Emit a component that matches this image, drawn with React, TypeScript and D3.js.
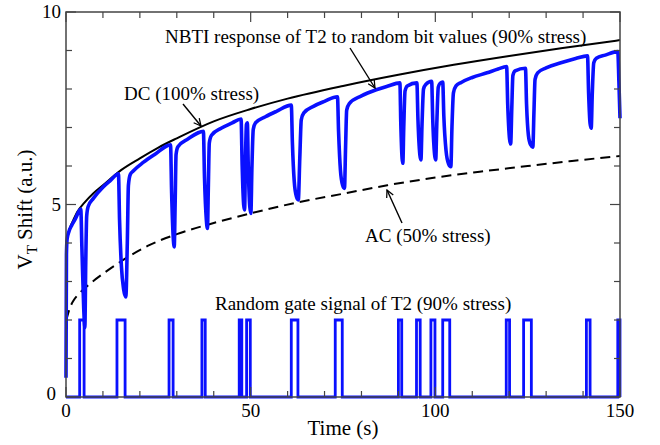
import React from 'react';
import * as d3 from 'd3';

// ---------- data ----------
const dcCurve: [number, number][] = [
  [0, 3.6], [0.15, 4.0], [0.5, 4.2], [1, 4.38], [2, 4.6], [3, 4.8], [5, 5.05], [7.5, 5.3],
  [10, 5.5], [15, 5.9], [20, 6.2], [25, 6.48], [30, 6.72], [40, 7.16], [50, 7.48],
  [60, 7.75], [75, 8.08], [90, 8.37], [105, 8.63], [120, 8.86], [135, 9.07], [150, 9.27],
];

const acCurve: [number, number][] = [
  [0.1, 2.0], [1, 2.3], [2, 2.5], [3.5, 2.68], [5.6, 2.87], [10, 3.2], [15.5, 3.56],
  [22.7, 3.95], [30, 4.23], [40, 4.52], [50, 4.77], [62.5, 5.05], [75, 5.28], [87, 5.5],
  [100, 5.7], [112, 5.85], [125, 6.0], [137, 6.13], [150, 6.26],
];

const vtCurve: [number, number][] = [
  [0, 0.5], [0.12, 3.7], [0.3, 4.1], [0.8, 4.3], [1.5, 4.45], [2.5, 4.62], [4.0, 4.88],
  [4.3, 3.9], [4.8, 2.3], [5.1, 1.8], [5.35, 3.5], [5.6, 4.7], [6.0, 4.95], [7.4, 5.16],
  [10, 5.45], [12, 5.62], [14.2, 5.8],
  [14.5, 4.6], [15.0, 3.4], [15.6, 2.8], [16.2, 2.6], [16.6, 4.0], [16.9, 5.5], [17.4, 5.78],
  [18.2, 5.87], [21, 6.1], [24, 6.3], [28.3, 6.55],
  [28.6, 5.3], [29.0, 4.2], [29.3, 3.9], [29.55, 5.0], [29.8, 6.3], [30.3, 6.5], [33, 6.7], [37.2, 6.9],
  [37.5, 5.7], [38.0, 4.6], [38.3, 4.38], [38.55, 5.5], [38.8, 6.6], [39.4, 6.8], [42, 6.98],
  [45, 7.12], [47.4, 7.22],
  [47.7, 6.0], [48.1, 5.0], [48.35, 4.86], [48.6, 6.2], [48.85, 7.08], [49.1, 7.12],
  [49.35, 6.0], [49.75, 4.95], [50.05, 4.77], [50.35, 6.0], [50.7, 6.95], [51.3, 7.12],
  [54, 7.28], [57, 7.42], [61.0, 7.58],
  [61.3, 6.6], [61.8, 5.6], [62.4, 5.2], [62.9, 5.12], [63.3, 6.2], [63.7, 7.2], [64.4, 7.38],
  [67, 7.55], [70, 7.68], [73.5, 7.8],
  [73.8, 6.9], [74.3, 5.9], [74.9, 5.5], [75.4, 5.42], [75.7, 6.5], [76.0, 7.45], [76.7, 7.62],
  [80, 7.82], [84, 7.98], [87, 8.07], [90.4, 8.16],
  [90.65, 7.1], [91.0, 6.2], [91.2, 6.07], [91.45, 7.0], [91.8, 7.95], [92.4, 8.08], [95.0, 8.16],
  [95.3, 7.2], [95.8, 6.3], [96.1, 6.16], [96.4, 7.1], [96.8, 8.0], [97.4, 8.12], [99.0, 8.2],
  [99.3, 7.2], [99.8, 6.3], [100.1, 6.16], [100.4, 7.1], [100.8, 8.05], [101.3, 8.15], [102.0, 8.18],
  [102.3, 7.3], [102.9, 6.4], [103.6, 6.05], [104.2, 5.98], [104.5, 7.0], [104.9, 7.9], [105.6, 8.08],
  [107, 8.17], [110, 8.3], [114, 8.42], [117, 8.52], [119.3, 8.58],
  [119.6, 7.6], [120.1, 6.7], [120.4, 6.57], [120.7, 7.5], [121.0, 8.35], [121.6, 8.47], [124.4, 8.54],
  [124.7, 7.6], [125.2, 6.8], [125.8, 6.55], [126.4, 6.49], [126.7, 7.4], [127.0, 8.25], [127.7, 8.42],
  [130, 8.55], [134, 8.68], [138, 8.79], [141.2, 8.86],
  [141.5, 7.9], [141.9, 7.1], [142.2, 6.98], [142.5, 7.9], [142.9, 8.68], [143.6, 8.8],
  [146, 8.88], [149.4, 8.97], [149.7, 8.2], [150, 7.24],
];

// gate high intervals [start, end] (s)
const gatePulses: [number, number][] = [
  [3.7, 4.9], [13.8, 16.0], [27.9, 29.0], [36.8, 37.7], [46.9, 47.6], [48.9, 49.9],
  [61.0, 62.8], [72.9, 74.8], [90.0, 90.9], [94.9, 95.9], [98.8, 99.9], [102.0, 103.9],
  [119.2, 120.1], [123.9, 126.0], [140.9, 141.9], [149.4, 150],
];
const gateHigh = 2;
const gateLow = 0;

const xMajorTicks = [0, 50, 100, 150];
const yMajorTicks = [0, 5, 10];

const xLabel = 'Time (s)';
const yLabelMain = 'V';
const yLabelSub = 'T';
const yLabelRest = ' Shift (a.u.)';
const nbtiLabel = 'NBTI response of T2 to random bit values (90% stress)';
const dcLabel = 'DC (100% stress)';
const acLabel = 'AC (50% stress)';
const gateLabel = 'Random gate signal of T2 (90% stress)';

// ---------- layout ----------
const W = 660;
const H = 445;
const L = 66, R = 620, T = 12, B = 397;
const FONT = '"Liberation Serif", "Times New Roman", serif';
const BLUE = '#0a10ff';

export default function App() {
  const x = d3.scaleLinear().domain([0, 150]).range([L, R]);
  const y = d3.scaleLinear().domain([0, 10]).range([B, T]);

  const line = d3.line<[number, number]>().x(d => x(d[0])).y(d => y(d[1])).curve(d3.curveMonotoneX);
  const stepLine = d3.line<[number, number]>().x(d => x(d[0])).y(d => y(d[1]));

  const gatePts: [number, number][] = [[0, gateLow]];
  gatePulses.forEach(([s, e]) => {
    gatePts.push([s, gateLow], [s, gateHigh], [e, gateHigh], [e, gateLow]);
  });
  gatePts.push([150, gateLow]);

  const xMinor = x.ticks(15);
  const yMinor = y.ticks(10);

  const axisColor = '#444';

  return (
    <svg width={W} height={H} style={{ position: 'absolute', left: 0, top: 0, background: '#fff' }}
      fontFamily={FONT}>
      <defs>
        <marker id="arr" viewBox="0 0 10 10" refX="9" refY="5" markerWidth="9" markerHeight="9"
          markerUnits="userSpaceOnUse" orient="auto">
          <path d="M1,1 L9,5 L1,9" fill="none" stroke="#000" strokeWidth={1.4} />
        </marker>
      </defs>
      <rect x={0} y={0} width={W} height={H} fill="#fff" />

      {/* curves */}
      <path d={line(dcCurve) || ''} fill="none" stroke="#000" strokeWidth={2} />
      <path d={line(acCurve) || ''} fill="none" stroke="#000" strokeWidth={2} strokeDasharray="10,6" />
      <path d={stepLine(gatePts) || ''} fill="none" stroke={BLUE} strokeWidth={2.8} />
      <path d={line(vtCurve) || ''} fill="none" stroke={BLUE} strokeWidth={3.6} strokeLinejoin="round" />

      {/* frame */}
      <rect x={L} y={T} width={R - L} height={B - T} fill="none" stroke={axisColor} strokeWidth={1.5} />
      {xMinor.map(t => {
        const len = xMajorTicks.includes(t) ? 10 : 6;
        return (
          <g key={'xt' + t}>
            <line x1={x(t)} x2={x(t)} y1={B} y2={B - len} stroke={axisColor} strokeWidth={1.2} />
            <line x1={x(t)} x2={x(t)} y1={T} y2={T + len} stroke={axisColor} strokeWidth={1.2} />
          </g>
        );
      })}
      {yMinor.map(v => {
        const len = yMajorTicks.includes(v) ? 10 : 6;
        return (
          <g key={'yt' + v}>
            <line x1={L} x2={L + len} y1={y(v)} y2={y(v)} stroke={axisColor} strokeWidth={1.2} />
            <line x1={R} x2={R - len} y1={y(v)} y2={y(v)} stroke={axisColor} strokeWidth={1.2} />
          </g>
        );
      })}

      {/* tick labels */}
      {xMajorTicks.map(t => (
        <text key={'xl' + t} x={x(t)} y={B + 20} textAnchor="middle" fontSize={19} fill="#000">{t}</text>
      ))}
      {yMajorTicks.map(v => (
        <text key={'yl' + v} x={v === 0 ? L - 10 : L - 5} y={y(v) + (v === 0 ? 3 : 6)} textAnchor="end"
          fontSize={19} fill="#000">{v}</text>
      ))}

      {/* axis titles */}
      <text x={(L + R) / 2} y={435} textAnchor="middle" fontSize={21} fill="#000">{xLabel}</text>
      <text transform={`translate(32, ${(T + B) / 2 + 5}) rotate(-90)`} textAnchor="middle" fontSize={21} fill="#000">
        {yLabelMain}<tspan dy={5} fontSize={15}>{yLabelSub}</tspan><tspan dy={-5}>{yLabelRest}</tspan>
      </text>

      {/* annotations */}
      <text x={165} y={43} fontSize={19} fill="#000">{nbtiLabel}</text>
      <line x1={350} y1={48} x2={375} y2={88} stroke="#000" strokeWidth={1.4} markerEnd="url(#arr)" />
      <text x={124} y={100} fontSize={19} fill="#000">{dcLabel}</text>
      <line x1={183} y1={104} x2={201} y2={126} stroke="#000" strokeWidth={1.4} markerEnd="url(#arr)" />
      <text x={365} y={242} fontSize={19} fill="#000">{acLabel}</text>
      <line x1={402} y1={223} x2={387} y2={190} stroke="#000" strokeWidth={1.4} markerEnd="url(#arr)" />
      <text x={215} y={310} fontSize={19} fill="#000">{gateLabel}</text>
    </svg>
  );
}
